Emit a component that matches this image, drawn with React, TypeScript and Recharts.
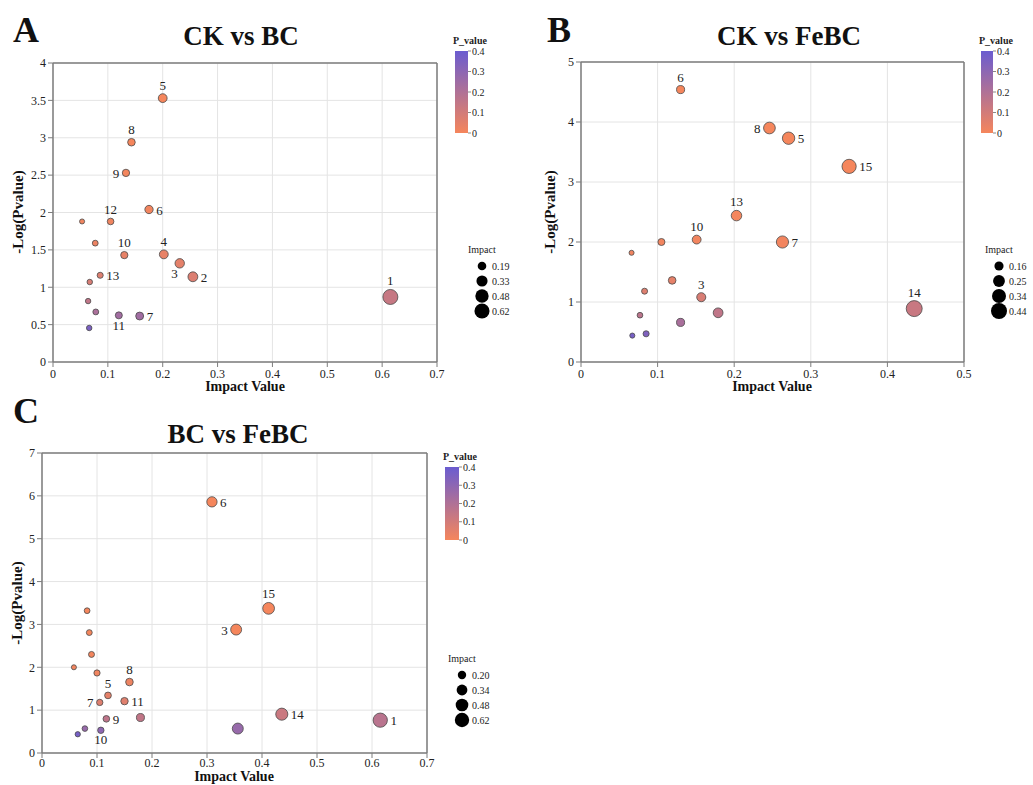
import { CartesianGrid, ReferenceLine, Scatter, ScatterChart, XAxis, YAxis, ZAxis } from "recharts";

const SERIF = '"Liberation Serif", "Times New Roman", serif';

// A: CK vs BC
const labelsA = ["1", "2", "3", "4", "5", "6", "7", "8", "9", "10", "11", "12", "13", "", "", "", "", "", ""];
const impactA = [0.615, 0.255, 0.231, 0.202, 0.2, 0.175, 0.158, 0.143, 0.133, 0.13, 0.12, 0.105, 0.086, 0.053, 0.077, 0.067, 0.064, 0.078, 0.066];
const logPA = [0.87, 1.14, 1.32, 1.44, 3.53, 2.04, 0.615, 2.94, 2.53, 1.43, 0.624, 1.88, 1.16, 1.88, 1.59, 1.07, 0.815, 0.67, 0.455];

// B: CK vs FeBC
const labelsB = ["3", "5", "6", "7", "8", "10", "13", "14", "15", "", "", "", "", "", "", "", "", ""];
const impactB = [0.157, 0.271, 0.13, 0.263, 0.246, 0.151, 0.203, 0.435, 0.35, 0.105, 0.066, 0.119, 0.083, 0.179, 0.077, 0.13, 0.085, 0.067];
const logPB = [1.08, 3.73, 4.54, 2.0, 3.9, 2.04, 2.44, 0.89, 3.26, 2.0, 1.82, 1.36, 1.18, 0.82, 0.78, 0.66, 0.47, 0.44];

// C: BC vs FeBC
const labelsC = ["1", "3", "5", "6", "7", "8", "9", "10", "11", "14", "15", "", "", "", "", "", "", "", "", ""];
const impactC = [0.615, 0.353, 0.12, 0.309, 0.105, 0.159, 0.117, 0.107, 0.15, 0.436, 0.412, 0.082, 0.086, 0.09, 0.058, 0.1, 0.179, 0.356, 0.078, 0.065];
const logPC = [0.766, 2.88, 1.344, 5.86, 1.18, 1.656, 0.797, 0.53, 1.21, 0.906, 3.375, 3.32, 2.81, 2.3, 2.0, 1.867, 0.828, 0.57, 0.57, 0.4375];

const xTicks07 = [0, 0.1, 0.2, 0.3, 0.4, 0.5, 0.6, 0.7];
const xTicks05 = [0, 0.1, 0.2, 0.3, 0.4, 0.5];
const yTicksA = [0, 0.5, 1, 1.5, 2, 2.5, 3, 3.5, 4];
const yTicksB = [0, 1, 2, 3, 4, 5];
const yTicksC = [0, 1, 2, 3, 4, 5, 6, 7];
const pTicks = [0, 0.1, 0.2, 0.3, 0.4];
const sizeKeysA = [0.19, 0.33, 0.48, 0.62];
const sizeKeysB = [0.16, 0.25, 0.34, 0.44];
const sizeKeysC = [0.2, 0.34, 0.48, 0.62];

const LOW = [245, 134, 92];
const HIGH = [106, 92, 208];

function pColor(p: number) {
  const t = Math.max(0, Math.min(1, p / 0.4));
  const c = LOW.map((v, i) => Math.round(v + (HIGH[i] - v) * t));
  return `rgb(${c[0]},${c[1]},${c[2]})`;
}

type Side = "top" | "right" | "left" | "bottom" | "belowLeft";

const sidesA: Record<string, Side> = {
  "1": "top", "2": "right", "3": "belowLeft", "4": "top", "5": "top", "6": "right", "7": "right",
  "8": "top", "9": "left", "10": "top", "11": "bottom", "12": "top", "13": "right",
};
const sidesB: Record<string, Side> = {
  "3": "top", "5": "right", "6": "top", "7": "right", "8": "left", "10": "top", "13": "top", "14": "top", "15": "right",
};
const sidesC: Record<string, Side> = {
  "1": "right", "3": "left", "5": "top", "6": "right", "7": "left", "8": "top", "9": "right",
  "10": "bottom", "11": "right", "14": "right", "15": "top",
};

const rows = (labels: string[], impact: number[], logP: number[]) =>
  labels.map((label, i) => ({ label, impact: impact[i], logp: logP[i], p: Math.pow(10, -logP[i]) }));

const makeShape = (sides: Record<string, Side>) => (props: any) => {
  const { cx, cy, size, payload } = props;
  const r = Math.sqrt((size ?? 50) / Math.PI);
  const side = sides[payload.label];
  let tx = cx;
  let ty = cy - r - 4;
  let anchor: "middle" | "start" | "end" = "middle";
  if (side === "bottom") ty = cy + r + 11;
  if (side === "right") { tx = cx + r + 3; ty = cy + 5; anchor = "start"; }
  if (side === "left") { tx = cx - r - 3; ty = cy + 5; anchor = "end"; }
  if (side === "belowLeft") { tx = cx - 2; ty = cy + r + 10; anchor = "end"; }
  return (
    <g>
      <circle cx={cx} cy={cy} r={r} fill={pColor(payload.p)} stroke="#4a4a4a" strokeWidth={0.8} />
      {payload.label ? (
        <text x={tx} y={ty} textAnchor={anchor} fontFamily={SERIF} fontSize={13} fill="#222">
          {payload.label}
        </text>
      ) : null}
    </g>
  );
};

const AXIS = "#7d7d7d";

type PanelCfg = {
  left: number; top: number; width: number; height: number;
  margin: { top: number; right: number; bottom: number; left: number };
  data: { label: string; impact: number; logp: number; p: number }[];
  xMax: number; xTicks: number[]; yMax: number; yTicks: number[];
  zDomain: [number, number]; zRange: [number, number];
  sides: Record<string, Side>;
  xTickGap: number;
};

function Panel({ cfg }: { cfg: PanelCfg }) {
  const tick = { fontFamily: SERIF, fontSize: 12, fill: "#222" };
  return (
    <div style={{ position: "absolute", left: cfg.left, top: cfg.top }}>
      <ScatterChart width={cfg.width} height={cfg.height} margin={cfg.margin}>
        <CartesianGrid stroke="#e4e4e4" />
        <XAxis
          type="number" dataKey="impact" domain={[0, cfg.xMax]} ticks={cfg.xTicks} interval={0} height={30}
          axisLine={{ stroke: AXIS, strokeWidth: 1.5 }} tickLine={{ stroke: AXIS }} tickSize={5}
          tickMargin={cfg.xTickGap} tick={tick}
        />
        <YAxis
          type="number" dataKey="logp" domain={[0, cfg.yMax]} ticks={cfg.yTicks} interval={0} width={40}
          axisLine={{ stroke: AXIS, strokeWidth: 1.5 }} tickLine={{ stroke: AXIS }} tickSize={5} tick={tick}
        />
        <ZAxis type="number" dataKey="impact" domain={cfg.zDomain} range={cfg.zRange} />
        <ReferenceLine y={cfg.yMax} stroke={AXIS} strokeWidth={1.5} />
        <ReferenceLine x={cfg.xMax} stroke={AXIS} strokeWidth={1.5} />
        <Scatter data={cfg.data} shape={makeShape(cfg.sides)} isAnimationActive={false} />
      </ScatterChart>
    </div>
  );
}

const panels: PanelCfg[] = [
  {
    left: 0, top: 0, width: 450, height: 400, margin: { top: 63, right: 13, bottom: 8, left: 13 },
    data: rows(labelsA, impactA, logPA), xMax: 0.7, xTicks: xTicks07, yMax: 4, yTicks: yTicksA,
    zDomain: [0.053, 0.615], zRange: [20, 177], sides: sidesA, xTickGap: 2,
  },
  {
    left: 530, top: 0, width: 450, height: 400, margin: { top: 62, right: 16, bottom: 8, left: 11 },
    data: rows(labelsB, impactB, logPB), xMax: 0.5, xTicks: xTicks05, yMax: 5, yTicks: yTicksB,
    zDomain: [0.066, 0.435], zRange: [20, 200], sides: sidesB, xTickGap: 2,
  },
  {
    left: 0, top: 398, width: 450, height: 385, margin: { top: 55, right: 23, bottom: 0, left: 2 },
    data: rows(labelsC, impactC, logPC), xMax: 0.7, xTicks: xTicks07, yMax: 7, yTicks: yTicksC,
    zDomain: [0.058, 0.615], zRange: [20, 160], sides: sidesC, xTickGap: 0,
  },
];

function radius(v: number, d: [number, number], r: [number, number]) {
  const area = r[0] + ((v - d[0]) / (d[1] - d[0])) * (r[1] - r[0]);
  return Math.sqrt(area / Math.PI);
}

function ColorBar({ id, x, y, w, h }: { id: string; x: number; y: number; w: number; h: number }) {
  return (
    <g>
      <defs>
        <linearGradient id={id} x1="0" y1="0" x2="0" y2="1">
          <stop offset="0%" stopColor={pColor(0.4)} />
          <stop offset="100%" stopColor={pColor(0)} />
        </linearGradient>
      </defs>
      <text x={x - 2} y={y - 7} fontFamily={SERIF} fontSize={10} fontWeight="bold" fill="#222">P_value</text>
      <rect x={x} y={y} width={w} height={h} fill={`url(#${id})`} />
      {pTicks.map((t) => {
        const ty = y + h - (t / 0.4) * h;
        return (
          <g key={t}>
            <line x1={x + w} x2={x + w + 3} y1={ty} y2={ty} stroke="#888" />
            <text x={x + w + 4} y={ty + 3.5} fontFamily={SERIF} fontSize={10} fill="#222">{t}</text>
          </g>
        );
      })}
    </g>
  );
}

function SizeLegend({ x, y, keys, d, r }: { x: number; y: number; keys: number[]; d: [number, number]; r: [number, number] }) {
  const ys = [13, 28, 43, 58];
  return (
    <g>
      <text x={x - 14} y={y} fontFamily={SERIF} fontSize={10} fill="#222">Impact</text>
      {keys.map((k, i) => (
        <g key={k}>
          <circle cx={x} cy={y + ys[i]} r={radius(k, d, r)} fill="#000" />
          <text x={x + 10} y={y + ys[i] + 3.5} fontFamily={SERIF} fontSize={10} fill="#222">{k.toFixed(2)}</text>
        </g>
      ))}
    </g>
  );
}

function Overlay() {
  const bold = { fontFamily: SERIF, fontWeight: "bold" as const, fill: "#111" };
  const yLabel = (cx: number, cy: number) => (
    <text x={cx} y={cy} transform={`rotate(-90 ${cx} ${cy})`} textAnchor="middle" dominantBaseline="central" fontSize={15} {...bold}>
      -Log(Pvalue)
    </text>
  );
  return (
    <svg width={1033} height={785} style={{ position: "absolute", left: 0, top: 0, pointerEvents: "none" }}>
      <text x={13} y={42} fontSize={36} {...bold}>A</text>
      <text x={547} y={42} fontSize={36} {...bold}>B</text>
      <text x={13} y={423} fontSize={36} {...bold}>C</text>
      <text x={241} y={45} textAnchor="middle" fontSize={27} {...bold}>CK vs BC</text>
      <text x={789} y={45} textAnchor="middle" fontSize={27} {...bold}>CK vs FeBC</text>
      <text x={238} y={443} textAnchor="middle" fontSize={27} {...bold}>BC vs FeBC</text>
      {yLabel(18, 212)}
      {yLabel(550, 212)}
      {yLabel(17, 603)}
      <text x={245} y={391} textAnchor="middle" fontSize={14} {...bold}>Impact Value</text>
      <text x={772} y={391} textAnchor="middle" fontSize={14} {...bold}>Impact Value</text>
      <text x={234} y={781} textAnchor="middle" fontSize={14} {...bold}>Impact Value</text>
      <ColorBar id="gA" x={455} y={51} w={13} h={82} />
      <ColorBar id="gB" x={981} y={51} w={12} h={82} />
      <ColorBar id="gC" x={445} y={467} w={14} h={73} />
      <SizeLegend x={482} y={253} keys={sizeKeysA} d={[0.053, 0.615]} r={[20, 177]} />
      <SizeLegend x={999} y={253} keys={sizeKeysB} d={[0.066, 0.435]} r={[20, 200]} />
      <SizeLegend x={462} y={662} keys={sizeKeysC} d={[0.058, 0.615]} r={[20, 160]} />
    </svg>
  );
}

export default function App() {
  return (
    <div style={{ position: "absolute", left: 0, top: 0, width: 1033, height: 785, background: "#fff" }}>
      {panels.map((p, i) => (
        <Panel key={i} cfg={p} />
      ))}
      <Overlay />
    </div>
  );
}
